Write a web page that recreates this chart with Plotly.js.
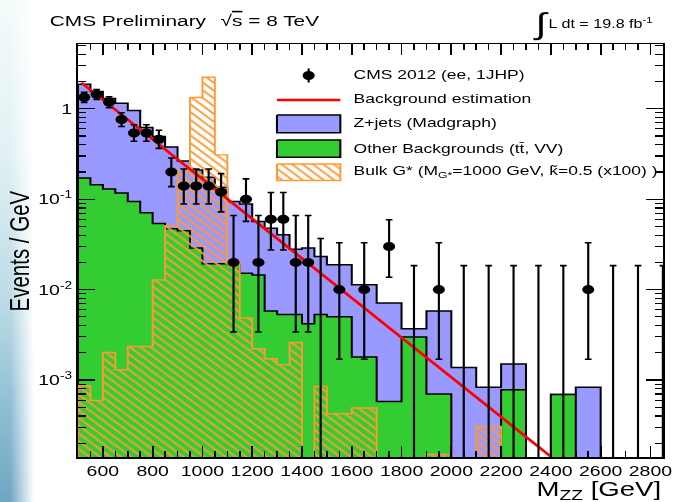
<!DOCTYPE html>
<html>
<head>
<meta charset="utf-8">
<script src="https://cdn.plot.ly/plotly-3.0.1.min.js"></script>
<style>
  html, body { margin: 0; padding: 0; background: #ffffff; width: 675px; height: 502px; overflow: hidden; }
  #slide {
    position: absolute; left: 0; top: 0; width: 34px; height: 502px;
    background: linear-gradient(to bottom, #f4fbfb 0%, #e2f1f4 30%, #bcdbe6 60%, #8dbdd3 82%, #6ea6c2 100%);
    -webkit-mask-image: linear-gradient(to right, #000 0%, #000 30%, rgba(0,0,0,0) 100%);
    mask-image: linear-gradient(to right, #000 0%, #000 30%, rgba(0,0,0,0) 100%);
  }
  #chart { position: absolute; left: 0; top: 0; width: 502px; height: 502px; transform: scaleX(1.3446); transform-origin: 0 0; }
</style>
</head>
<body>
<div id="slide"></div>
<div id="chart"></div>
<script>
// ---- binning (GeV) ----
const binEdges = [500, 550, 600, 650, 700, 750, 800, 850, 900, 950, 1000, 1050, 1100, 1150, 1200,
  1250, 1300, 1350, 1400, 1450, 1500, 1600, 1700, 1800, 1900, 2000, 2100, 2200, 2300, 2400,
  2500, 2600, 2700, 2800, 2900];

// ---- observed events per bin (CMS 2012, ee, 1JHP) ----
const dataCounts = [67, 72, 59, 38, 27, 27, 23, 10, 7, 7, 7, 6, 1, 5, 1, 3, 3, 1, 1, 0,
  1, 1, 3, 0, 1, 0, 0, 0, 0, 0, 1, 0, 0, 0];
// Poisson (Garwood 68%) interval on the event counts
const dataLow = [58.83, 63.53, 51.33, 31.86, 21.83, 21.83, 18.23, 6.89, 4.42, 4.42, 4.42, 3.62, 0.17, 2.84, 0.17, 1.37, 1.37, 0.17, 0.17, 0,
  0.17, 0.17, 1.37, 0, 0.17, 0, 0, 0, 0, 0, 0.17, 0, 0, 0];
const dataHigh = [76.23, 81.53, 67.73, 45.23, 33.27, 33.27, 28.88, 14.27, 10.77, 10.77, 10.77, 9.58, 3.30, 8.38, 3.30, 5.92, 5.92, 3.30, 3.30, 1.84,
  3.30, 3.30, 5.92, 1.84, 3.30, 1.84, 1.84, 1.84, 1.84, 1.84, 3.30, 1.84, 1.84, 1.84];

// ---- simulated backgrounds (events / GeV) ----
const otherBkg = [0.171, 0.144, 0.130, 0.117, 0.094, 0.071, 0.054, 0.047, 0.0448, 0.0289, 0.0193, 0.0193, 0.019, 0.0152, 0.0145,
  0.0058, 0.0053, 0.0053, 0.0042, 0.0053, 0.0050, 0.0018, 0.00058, 0.0030, 0.00070, 0, 0, 0.00078, 0, 0.00069,
  0, 0, 0, 0];
const zJets = [1.70, 1.41, 1.17, 1.03, 0.86, 0.55, 0.44, 0.33, 0.22, 0.181, 0.156, 0.116, 0.075, 0.073, 0.042,
  0.042, 0.035, 0.0227, 0.0246, 0.0179, 0.0138, 0.0095, 0.00652, 0.0007, 0.0051, 0.00138, 0.00083, 0.00072, 0, 0,
  0.00083, 0, 0, 0];

// ---- Bulk G* signal, M = 1000 GeV, k~ = 0.5, scaled x100 (events / GeV) ----
const signalX100 = [0.000865, 0.000596, 0.00202, 0.0013, 0.00235, 0.00235, 0.0128, 0.0508, 0.211, 1.33, 2.23, 0.309, 0.0204, 0.00484, 0.00222,
  0.00172, 0.00148, 0.0026, 0, 0.00085, 0.000424, 0.00049, 0, 0, 0.00015, 0, 0.000307, 0, 0, 0,
  0, 0, 0, 0];

// ---- background estimation (exponential) ----
const fitMass = [514, 2402];
const fitValue = [1.94, 1.41e-4];

// ---- tick labels ----
const yTickVals = [1e-3, 1e-2, 1e-1, 1];
const yTickText = ['10<sup>-3</sup>', '10<sup>-2</sup>', '10<sup>-1</sup>', '1'];

// ---- geometry of the drawing ----
const S = 1.3446;             // horizontal stretch applied to the whole chart
const W = 502, H = 502;
const M = { l: 58.2, r: 8.7, t: 44, b: 44.7 };
const PW = W - M.l - M.r, PH = H - M.t - M.b;
const fx = xp => (xp / S - M.l) / PW;   // page px -> paper
const fy = yp => 1 - (yp - M.t) / PH;

const FONT = 'Liberation Sans, Arial, Helvetica, sans-serif';
const BLUE = '#9999ff', GREEN = '#33cc33', ORANGE = '#ff9933';
const EMPTY = 1e-9;  // drawn below the axis for empty bins

const nb = binEdges.length - 1;
const widths = [], centers = [];
for (let i = 0; i < nb; i++) {
  widths.push(binEdges[i + 1] - binEdges[i]);
  centers.push(0.5 * (binEdges[i] + binEdges[i + 1]));
}

function step(vals) {
  const x = [binEdges[0]], y = [EMPTY];
  for (let i = 0; i < nb; i++) { x.push(binEdges[i]); y.push(vals[i] > 0 ? vals[i] : EMPTY); }
  x.push(binEdges[nb]); y.push(vals[nb - 1] > 0 ? vals[nb - 1] : EMPTY);
  x.push(binEdges[nb]); y.push(EMPTY);
  return { x, y };
}

const stackTop = zJets.map((v, i) => v + otherBkg[i]);
const sTop = step(stackTop), sOther = step(otherBkg), sSig = step(signalX100);
const HATCH = { shape: '\\', fgcolor: ORANGE, bgcolor: 'rgba(0,0,0,0)', size: 5.5, solidity: 0.3, fillmode: 'replace' };

const traces = [];
traces.push({ x: sTop.x, y: sTop.y, type: 'scatter', mode: 'lines', line: { shape: 'hv', color: '#000', width: 1.5, simplify: false },
  fill: 'tozeroy', fillcolor: BLUE, name: 'Z+jets (Madgraph)', hoverinfo: 'skip' });
traces.push({ x: sOther.x, y: sOther.y, type: 'scatter', mode: 'lines', line: { shape: 'hv', color: '#000', width: 1.5, simplify: false },
  fill: 'tozeroy', fillcolor: GREEN, name: 'Other Backgrounds', hoverinfo: 'skip' });
traces.push({ x: sSig.x, y: sSig.y, type: 'scatter', mode: 'lines', line: { shape: 'hv', color: ORANGE, width: 1.4, simplify: false },
  fill: 'tozeroy', fillcolor: 'rgba(0,0,0,0)', fillpattern: HATCH, name: 'Bulk G*', hoverinfo: 'skip' });
traces.push({ x: fitMass, y: fitValue, type: 'scatter', mode: 'lines', line: { color: '#ff0000', width: 2.4 }, name: 'Background estimation' });

// observed data: filled bins and empty bins
const dx = [], dy = [], dUp = [], dDn = [], ex = [], ey = [], eDn = [], eUp = [];
for (let i = 0; i < nb; i++) {
  const w = widths[i], n = dataCounts[i];
  if (n > 0) {
    dx.push(centers[i]); dy.push(n / w);
    dUp.push((dataHigh[i] - n) / w); dDn.push((n - dataLow[i]) / w);
  } else {
    ex.push(centers[i]); ey.push(dataHigh[i] / w); eUp.push(0); eDn.push(dataHigh[i] / w);
  }
}
traces.push({ x: ex, y: ey, type: 'scatter', mode: 'markers', marker: { size: 1, color: 'rgba(0,0,0,0)' },
  error_y: { type: 'data', symmetric: false, array: eUp, arrayminus: eDn, color: '#000', thickness: 1.6, width: 2.5 }, hoverinfo: 'skip' });
traces.push({ x: dx, y: dy, type: 'scatter', mode: 'markers', marker: { size: 9, color: '#000', symbol: 'circle' },
  error_y: { type: 'data', symmetric: false, array: dUp, arrayminus: dDn, color: '#000', thickness: 1.6, width: 2.5 },
  name: 'CMS 2012 (ee, 1JHP)' });

// legend symbols, drawn on an overlay in page-pixel units
const LX0 = 277.3, LX1 = 340.7;
function box(y0, y1, fillcolor, linecolor, pattern) {
  const t = { x: [LX0, LX1, LX1, LX0, LX0], y: [y0, y0, y1, y1, y0], xaxis: 'x2', yaxis: 'y2', type: 'scatter', mode: 'lines',
    fill: 'toself', fillcolor: fillcolor, line: { color: linecolor, width: 1.5 }, hoverinfo: 'skip' };
  if (pattern) t.fillpattern = pattern;
  return t;
}
traces.push({ x: [309], y: [75.5], xaxis: 'x2', yaxis: 'y2', type: 'scatter', mode: 'markers',
  marker: { size: 9, color: '#000' }, error_y: { type: 'constant', value: 7, color: '#000', thickness: 1.6, width: 0 }, hoverinfo: 'skip' });
traces.push({ x: [LX0, LX1], y: [100, 100], xaxis: 'x2', yaxis: 'y2', type: 'scatter', mode: 'lines', line: { color: '#ff0000', width: 2.4 }, hoverinfo: 'skip' });
traces.push(box(115, 132.7, BLUE, '#000'));
traces.push(box(140, 157.3, GREEN, '#000'));
traces.push(box(164, 180.7, 'rgba(0,0,0,0)', ORANGE, HATCH));

// minor ticks on the log axis
const yMinor = [];
for (let e = -4; e <= 0; e++) for (let k = 2; k <= 9; k++) yMinor.push(k * Math.pow(10, e));

function txt(text, xp, yp, size, xanchor, extra) {
  const a = xanchor || 'left';
  return Object.assign({ text: text, x: fx(xp), y: fy(yp), xref: 'paper', yref: 'paper', showarrow: false,
    xanchor: a, yanchor: 'middle', align: a, borderpad: 0,
    font: { family: FONT, size: size, color: '#000' } }, extra || {});
}

const annotations = [
  txt('CMS Preliminary', 49, 20, 15.5),
  txt('\u221A<span style="text-decoration:overline">s</span> = 8 TeV', 322, 20, 15.5, 'right'),
  txt('\u222B', 541, 24, 30, 'center'),
  txt('L dt = 19.8 fb<sup>-1</sup>', 548, 23, 12),
  txt('CMS 2012 (ee, 1JHP)', 353, 75, 13),
  txt('Background estimation', 353, 98.3, 13),
  txt('Z+jets (Madgraph)', 353, 122.7, 13),
  txt('Other Backgrounds (tt\u0304, VV)', 353, 149, 13),
  txt('Bulk G* (M<sub>G*</sub>=1000 GeV, k\u0303=0.5 (x100) )', 353, 171.7, 13),
  txt('M<sub>ZZ</sub> [GeV]', 663, 490, 20.5, 'right'),
  txt('Events / GeV', 20, 251, 20.5, 'center', { textangle: -90 })
];

const layout = {
  width: W, height: H,
  margin: { l: M.l, r: M.r, t: M.t, b: M.b, pad: 0 },
  paper_bgcolor: 'rgba(0,0,0,0)', plot_bgcolor: '#ffffff',
  showlegend: false,
  font: { family: FONT, color: '#000' },
  xaxis: {
    range: [500, 2850], tickmode: 'linear', tick0: 0, dtick: 200,
    ticks: 'inside', ticklen: 11, tickwidth: 1.3, tickcolor: '#000',
    minor: { dtick: 50, ticks: 'inside', ticklen: 6, tickwidth: 1.2, tickcolor: '#000' },
    showline: true, linecolor: '#000', linewidth: 1.5, mirror: 'ticks',
    showgrid: false, zeroline: false,
    tickfont: { family: FONT, size: 14.5, color: '#000' }
  },
  yaxis: {
    type: 'log', range: [-3.851, 0.716],
    tickmode: 'array', tickvals: yTickVals, ticktext: yTickText,
    ticks: 'inside', ticklen: 12.4, tickwidth: 1.3, tickcolor: '#000',
    minor: { tickmode: 'array', tickvals: yMinor, ticks: 'inside', ticklen: 6.2, tickwidth: 1.2, tickcolor: '#000' },
    showline: true, linecolor: '#000', linewidth: 1.5, mirror: 'ticks',
    showgrid: false, zeroline: false,
    tickfont: { family: FONT, size: 14.5, color: '#000' }
  },
  xaxis2: { overlaying: 'x', anchor: 'y2', range: [78.3, 663.3], visible: false, fixedrange: true },
  yaxis2: { overlaying: 'y', anchor: 'x2', range: [457.3, 44], visible: false, fixedrange: true },
  annotations: annotations
};

Plotly.newPlot('chart', traces, layout, { staticPlot: true, displayModeBar: false });
</script>
</body>
</html>
